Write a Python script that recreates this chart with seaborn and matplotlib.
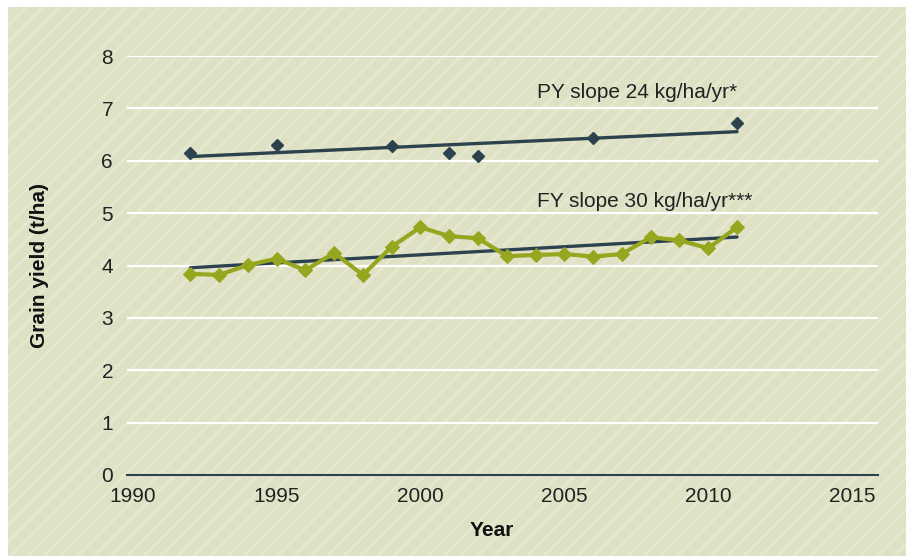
import numpy as np
import pandas as pd
import matplotlib
matplotlib.use("Agg")
import matplotlib.pyplot as plt
from matplotlib.patches import Rectangle
import seaborn as sns

# Données
py_years = [1992, 1995, 1999, 2001, 2002, 2006, 2011]
py_yield = [6.14, 6.30, 6.28, 6.14, 6.09, 6.44, 6.72]

fy_years = list(range(1992, 2012))
fy_yield = [3.84, 3.82, 4.01, 4.13, 3.91, 4.24, 3.82, 4.36, 4.73, 4.56,
            4.52, 4.18, 4.20, 4.22, 4.17, 4.22, 4.54, 4.48, 4.33, 4.73]

x_ticks = [1990, 1995, 2000, 2005, 2010, 2015]
y_ticks = [0, 1, 2, 3, 4, 5, 6, 7, 8]
py_label = "PY slope 24 kg/ha/yr*"
fy_label = "FY slope 30 kg/ha/yr***"

py = pd.DataFrame({"year": py_years, "yield": py_yield})
fy = pd.DataFrame({"year": fy_years, "yield": fy_yield})

sns.set_theme(style="white")
plt.rcParams["font.family"] = ["Liberation Sans", "DejaVu Sans"]
plt.rcParams["hatch.linewidth"] = 2.0

dark = "#2c434f"
olive = "#96a61f"
txt = "#222222"
fs = 15

fig = plt.figure(figsize=(9.06, 5.56), dpi=100)
fig.patch.set_facecolor("white")

# fond beige hachuré
bg = Rectangle((8 / 906, 0), 1 - 8 / 906, 1 - 7 / 556, transform=fig.transFigure,
               facecolor="#dfe1c4", edgecolor="#e5e7d1", linewidth=0, hatch="//",
               zorder=-10)
fig.patches.append(bg)

ax = fig.add_axes([127 / 906, 81 / 556, 751 / 906, 419 / 556])
ax.set_facecolor("none")

# grille blanche
for yv in y_ticks[1:]:
    ax.axhline(yv, color="white", lw=1.6, zorder=0)

# tendances
sns.regplot(data=py, x="year", y="yield", scatter=False, ci=None, ax=ax,
            line_kws=dict(color=dark, lw=2.4, zorder=2))
sns.regplot(data=fy, x="year", y="yield", scatter=False, ci=None, ax=ax,
            line_kws=dict(color=dark, lw=2.4, zorder=2))

# séries
sns.lineplot(data=fy, x="year", y="yield", ax=ax, color=olive, lw=3,
             marker="D", markersize=7, markeredgecolor=olive, zorder=3)
ax.plot(py["year"], py["yield"], linestyle="none", marker="D", markersize=6.5,
        color=dark, zorder=4)

ax.text(2004.05, 7.31, py_label, ha="left", va="center", fontsize=fs, color=txt)
ax.text(2004.05, 5.22, fy_label, ha="left", va="center", fontsize=fs, color=txt)

ax.set_xlim(1989.8, 2015.9)
ax.set_ylim(0, 8)
ax.set_xticks(x_ticks)
ax.set_yticks(y_ticks)
ax.tick_params(axis="x", direction="out", length=4, width=1.2, color=dark,
               labelsize=fs, labelcolor=txt, pad=5)
ax.tick_params(axis="y", length=0, labelsize=fs, labelcolor=txt, pad=10)

for s in ["top", "right", "left"]:
    ax.spines[s].set_visible(False)
ax.spines["bottom"].set_color(dark)
ax.spines["bottom"].set_linewidth(1.5)
ax.spines["bottom"].set_zorder(5)

ax.set_xlabel("Year", fontsize=fs, fontweight="bold", color="#111111")
ax.set_ylabel("Grain yield (t/ha)", fontsize=fs, fontweight="bold", color="#111111")
ax.xaxis.set_label_coords(0.486, -0.133)
ax.xaxis.label.set_va("center")
ax.yaxis.set_label_coords(-0.116, 0.5)
ax.yaxis.label.set_va("center")

fig.savefig("out.png", dpi=100)
